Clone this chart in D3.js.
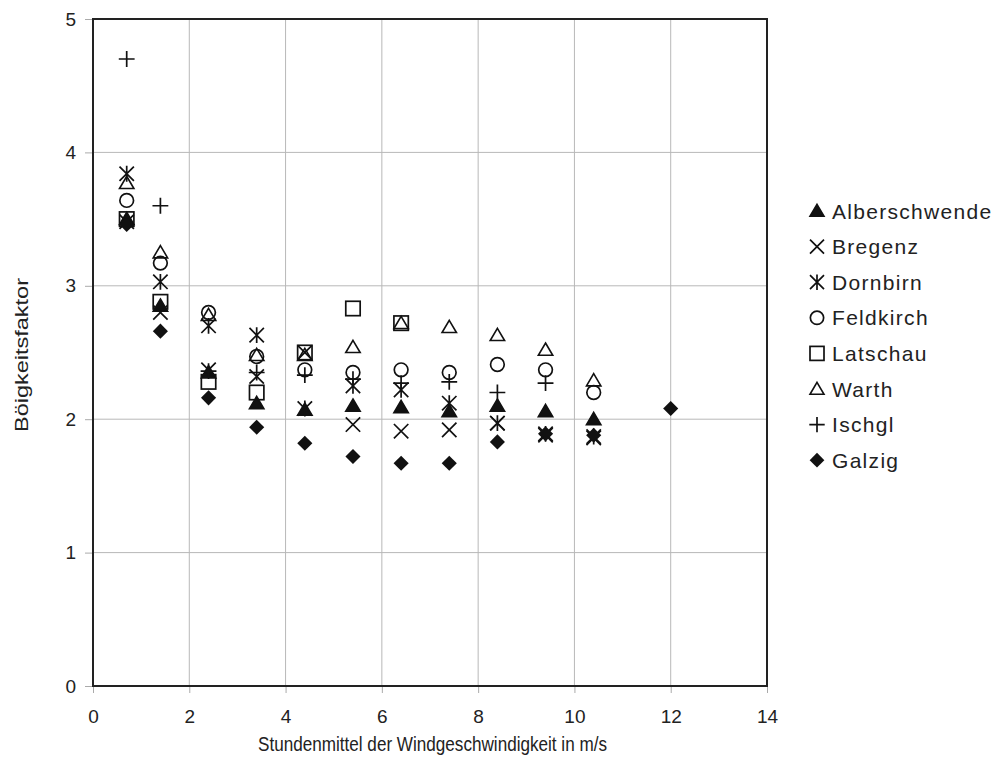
<!DOCTYPE html>
<html>
<head>
<meta charset="utf-8">
<script src="https://cdn.jsdelivr.net/npm/d3@7"></script>
<style>
  body { margin: 0; background: #fff; }
  svg { font-family: "Liberation Sans", Arial, sans-serif; }
</style>
</head>
<body>
<div id="chart"></div>
<script>
// wind speed classes (hourly mean, m/s)
const speeds = [0.7, 1.4, 2.4, 3.4, 4.4, 5.4, 6.4, 7.4, 8.4, 9.4, 10.4, 12];

const alberschwende = [3.5, 2.85, 2.35, 2.12, 2.07, 2.1, 2.09, 2.06, 2.1, 2.06, 2.0];
const bregenz = [3.48, 2.8, 2.37, 2.32, 2.5, 1.96, 1.91, 1.92, 1.97, 1.88, 1.86];
const dornbirn = [3.84, 3.03, 2.7, 2.63, 2.08, 2.25, 2.22, 2.12, 1.97, 1.89, 1.87];
const feldkirch = [3.64, 3.17, 2.8, 2.47, 2.37, 2.35, 2.37, 2.35, 2.41, 2.37, 2.2];
const latschau = [3.5, 2.88, 2.28, 2.2, 2.5, 2.83, 2.72];
const warth = [3.77, 3.25, 2.78, 2.48, 2.48, 2.54, 2.72, 2.69, 2.63, 2.52, 2.29];
const ischgl = [4.7, 3.6, 2.36, 2.35, 2.33, 2.3, 2.27, 2.28, 2.2, 2.27];
const galzig = [3.46, 2.66, 2.16, 1.94, 1.82, 1.72, 1.67, 1.67, 1.83, 1.89, 1.88, 2.08];

const stations = [
  { name: "Alberschwende", values: alberschwende, shape: "triFill" },
  { name: "Bregenz", values: bregenz, shape: "x" },
  { name: "Dornbirn", values: dornbirn, shape: "star" },
  { name: "Feldkirch", values: feldkirch, shape: "circle" },
  { name: "Latschau", values: latschau, shape: "square" },
  { name: "Warth", values: warth, shape: "tri" },
  { name: "Ischgl", values: ischgl, shape: "plus" },
  { name: "Galzig", values: galzig, shape: "diamond" }
];

const xTicks = [0, 2, 4, 6, 8, 10, 12, 14];
const yTicks = [0, 1, 2, 3, 4, 5];

const width = 998, height = 778;
const margin = { left: 93, top: 19, right: 231, bottom: 92 };

const svg = d3.select("#chart").append("svg")
  .attr("width", width)
  .attr("height", height);

const x = d3.scaleLinear().domain([0, 14]).range([margin.left, width - margin.right]);
const y = d3.scaleLinear().domain([0, 5]).range([height - margin.bottom, margin.top]);

// grid
svg.append("g")
  .selectAll("line")
  .data(xTicks.slice(1, -1))
  .join("line")
  .attr("x1", d => x(d)).attr("x2", d => x(d))
  .attr("y1", y(5)).attr("y2", y(0))
  .attr("stroke", "#b8b8b8").attr("stroke-width", 1);
svg.append("g")
  .selectAll("line")
  .data(yTicks.slice(1, -1))
  .join("line")
  .attr("x1", x(0)).attr("x2", x(14))
  .attr("y1", d => y(d)).attr("y2", d => y(d))
  .attr("stroke", "#b8b8b8").attr("stroke-width", 1);

// axes
const xAxis = svg.append("g")
  .attr("transform", `translate(0,${y(0)})`)
  .call(d3.axisBottom(x).tickValues(xTicks).tickFormat(d3.format("d")).tickSize(7).tickPadding(17));
const yAxis = svg.append("g")
  .attr("transform", `translate(${x(0)},0)`)
  .call(d3.axisLeft(y).tickValues(yTicks).tickFormat(d3.format("d")).tickSize(8).tickPadding(9));
[xAxis, yAxis].forEach(a => {
  a.attr("font-size", 19).attr("font-family", "Liberation Sans, Arial, sans-serif");
  a.select(".domain").remove();
  a.selectAll(".tick line").attr("stroke", "#aaa");
  a.selectAll(".tick text").attr("fill", "#222");
});

// frame
svg.append("rect")
  .attr("x", x(0)).attr("y", y(5))
  .attr("width", x(14) - x(0)).attr("height", y(0) - y(5))
  .attr("fill", "none").attr("stroke", "#222").attr("stroke-width", 2);

// axis titles
svg.append("text")
  .attr("x", 258).attr("y", 751)
  .attr("textLength", 349).attr("lengthAdjust", "spacingAndGlyphs")
  .attr("fill", "#222")
  .style("font-size", "20px")
  .text("Stundenmittel der Windgeschwindigkeit in m/s");
svg.append("text")
  .attr("transform", `translate(28,432) rotate(-90)`)
  .attr("textLength", 154).attr("lengthAdjust", "spacingAndGlyphs")
  .attr("fill", "#222")
  .style("font-size", "19px")
  .text("Böigkeitsfaktor");

// marker drawing
function drawMarker(g, shape, s) {
  const stroke = "#111";
  if (shape === "triFill" || shape === "tri") {
    g.append("path")
      .attr("d", `M0,${-s * 0.95}L${s},${s * 0.75}L${-s},${s * 0.75}Z`)
      .attr("fill", shape === "triFill" ? stroke : "none")
      .attr("stroke", stroke).attr("stroke-width", 1.6);
  } else if (shape === "x") {
    g.append("path")
      .attr("d", `M${-s},${-s}L${s},${s}M${-s},${s}L${s},${-s}`)
      .attr("stroke", stroke).attr("stroke-width", 1.7).attr("fill", "none");
  } else if (shape === "star") {
    g.append("path")
      .attr("d", `M${-s},${-s}L${s},${s}M${-s},${s}L${s},${-s}M0,${-s * 1.1}L0,${s * 1.1}`)
      .attr("stroke", stroke).attr("stroke-width", 1.7).attr("fill", "none");
  } else if (shape === "circle") {
    g.append("circle").attr("r", s * 0.95)
      .attr("fill", "none").attr("stroke", stroke).attr("stroke-width", 1.7);
  } else if (shape === "square") {
    g.append("rect")
      .attr("x", -s).attr("y", -s).attr("width", 2 * s).attr("height", 2 * s)
      .attr("fill", "none").attr("stroke", stroke).attr("stroke-width", 1.7);
  } else if (shape === "plus") {
    g.append("path")
      .attr("d", `M${-s * 1.1},0L${s * 1.1},0M0,${-s * 1.1}L0,${s * 1.1}`)
      .attr("stroke", stroke).attr("stroke-width", 1.7).attr("fill", "none");
  } else if (shape === "diamond") {
    g.append("path")
      .attr("d", `M0,${-s * 1.05}L${s * 1.05},0L0,${s * 1.05}L${-s * 1.05},0Z`)
      .attr("fill", stroke);
  }
}

// points
stations.forEach(st => {
  const g = svg.append("g").attr("class", "series");
  st.values.forEach((v, i) => {
    const m = g.append("g").attr("transform", `translate(${x(speeds[i])},${y(v)})`);
    drawMarker(m, st.shape, 7.2);
  });
});

// legend
const legend = svg.append("g").attr("transform", "translate(817,211)");
stations.forEach((st, i) => {
  const row = legend.append("g").attr("transform", `translate(0,${i * 35.6})`);
  drawMarker(row.append("g"), st.shape, 7);
  row.append("text")
    .attr("x", 15).attr("y", 7.5)
    .attr("fill", "#222")
    .style("font-size", "21px")
    .style("letter-spacing", "1.3px")
    .text(st.name);
});
</script>
</body>
</html>
